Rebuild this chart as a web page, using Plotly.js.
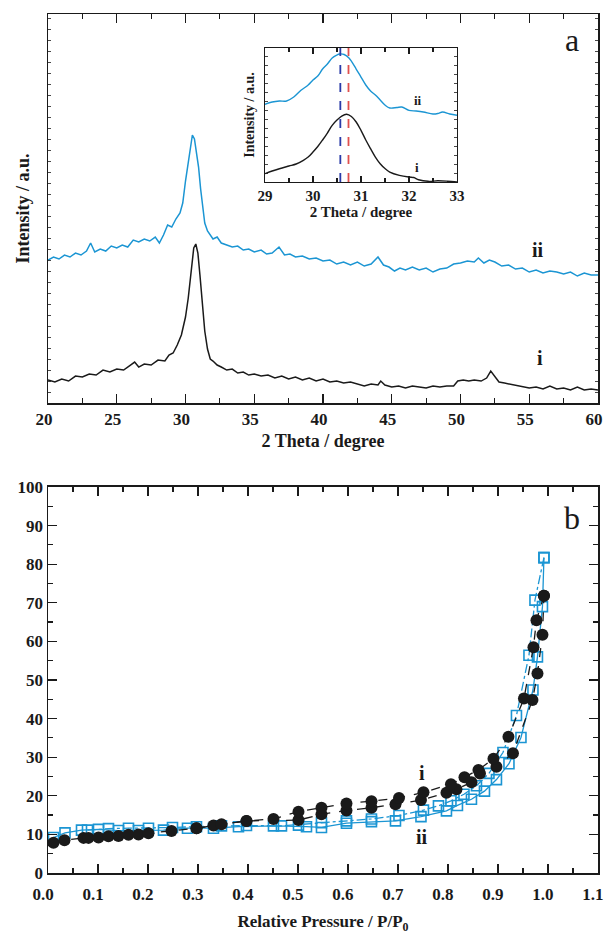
<!DOCTYPE html>
<html>
<head>
<meta charset="utf-8">
<script src="https://cdn.plot.ly/plotly-3.0.1.min.js"></script>
<style>html,body{margin:0;padding:0;background:#fff;}#chart{width:607px;height:936px;}</style>
</head>
<body>
<div id="chart"></div>
<script>
// ---------- Panel a: XRD patterns (intensity in arbitrary units) ----------
const xrdTheta_i = [20.0,20.5,21.0,21.5,22.0,22.5,23.0,23.5,24.0,24.5,25.0,25.5,26.0,26.3,26.6,27.0,27.5,28.0,28.5,28.8,29.1,29.4,29.7,30.0,30.2,30.4,30.6,30.75,30.9,31.05,31.2,31.4,31.6,31.8,32.0,32.3,32.6,33.0,33.4,33.8,34.2,34.6,35.0,35.5,36.0,36.5,37.0,37.5,38.0,38.5,39.0,39.5,40.0,40.5,41.0,41.5,42.0,42.5,43.0,43.5,44.0,44.2,44.5,45.0,45.5,46.0,46.5,47.0,47.5,48.0,48.5,49.0,49.5,49.8,50.2,50.6,51.0,51.5,51.9,52.2,52.5,52.8,53.2,53.6,54.0,54.5,55.0,55.5,56.0,56.5,57.0,57.5,58.0,58.5,59.0,59.5,60.0];
const xrdInt_i = [23,21,24,22,27,26,29,28,33,31,34,33,38,41,36,39,38,43,42,48,50,58,68,86,105,132,155,159,150,128,100,72,54,44,42,38,36,33,34,30,31,28,29,27,28,25,27,24,26,23,25,22,24,21,22,20,21,19,17,19,18,22,18,16,17,15,17,16,15,17,16,17,17,22,23,22,23,22,25,32,27,21,20,19,18,17,15,16,14,17,14,15,13,16,13,14,13];
const xrdTheta_ii = [20.0,20.4,20.8,21.2,21.6,22.0,22.4,22.8,23.1,23.4,23.8,24.2,24.6,25.0,25.4,25.8,26.2,26.6,27.0,27.4,27.8,28.1,28.4,28.7,29.0,29.3,29.6,29.8,30.0,30.2,30.35,30.5,30.65,30.8,30.95,31.1,31.25,31.4,31.6,31.8,32.0,32.3,32.6,33.0,33.4,33.8,34.2,34.6,35.0,35.5,35.9,36.3,36.8,37.2,37.6,38.0,38.5,39.0,39.5,40.0,40.5,41.0,41.5,42.0,42.5,43.0,43.5,44.0,44.4,44.8,45.2,45.6,46.0,46.5,47.0,47.5,48.0,48.5,49.0,49.5,50.0,50.5,51.0,51.3,51.7,52.1,52.5,53.0,53.5,54.0,54.5,55.0,55.5,56.0,56.5,57.0,57.5,58.0,58.5,59.0,59.5,60.0];
const xrdInt_ii = [143,146,144,148,146,150,148,152,160,151,154,152,157,155,158,156,163,161,164,162,166,160,168,178,176,184,190,200,222,240,258,268,264,252,236,214,195,180,172,168,164,166,160,158,156,157,153,154,151,153,149,150,156,148,149,146,147,144,145,142,143,139,141,138,141,137,139,146,138,136,132,135,133,136,133,135,131,134,135,139,140,142,141,145,140,143,141,137,138,134,135,131,133,130,132,131,129,131,127,130,128,128];

// Inset (29–33 degree zoom of the main reflection)
const insetTheta_i = [29.0,29.15,29.3,29.5,29.65,29.8,29.9,30.0,30.1,30.2,30.3,30.4,30.5,30.6,30.7,30.8,30.9,31.0,31.1,31.2,31.3,31.4,31.5,31.6,31.8,32.0,32.1,32.2,32.4,32.6,32.8,33.0];
const insetInt_i = [8.3,11,13.3,16,18,21.7,25,30,35.5,42,49,56.7,62,66,67.7,65.5,60,51.7,42,33.3,25,18.3,13.5,10,6.7,5,4.5,2.3,0.7,1.2,0.8,0];
const insetTheta_ii = [29.0,29.15,29.3,29.45,29.6,29.75,29.9,30.0,30.1,30.2,30.3,30.4,30.5,30.55,30.65,30.75,30.9,31.0,31.1,31.2,31.3,31.4,31.5,31.6,31.75,31.85,32.0,32.15,32.3,32.5,32.6,32.7,32.85,33.0];
const insetInt_ii = [77.7,80,81,81,85,91.7,97,102,106,113,118,124,127,128,127.5,124,113,105,97,91,87,82,77,74,74.5,75,71.7,71,70,68,68.5,70,68,66.7];
const peakPositions = [30.57, 30.74];   // blue (ii) and red (i) dashed markers
const peakColors = ['#2a3aa8', '#e0504e'];

// ---------- Panel b: N2 isotherms ----------
const ads_i_P = [0.011,0.033,0.071,0.081,0.101,0.121,0.141,0.161,0.181,0.201,0.247,0.297,0.331,0.397,0.501,0.547,0.597,0.647,0.695,0.746,0.797,0.817,0.847,0.864,0.897,0.930,0.969,0.979,0.989,0.992];
const ads_i_V = [7.85,8.5,9.1,9.1,9.2,9.5,9.6,9.9,10.0,10.3,10.9,11.6,12.3,13.5,13.7,15.2,16.2,16.9,17.8,18.9,20.8,21.7,23.5,25.8,27.5,31.0,44.8,51.7,61.7,71.8];
const des_i_P = [0.992,0.977,0.971,0.952,0.921,0.891,0.861,0.833,0.806,0.751,0.702,0.647,0.597,0.547,0.501,0.451,0.397,0.347,0.297];
const des_i_V = [71.8,65.5,58.5,45.2,35.3,29.6,26.7,24.8,23.0,20.9,19.4,18.6,18.0,16.9,15.9,14.0,13.5,12.6,11.6];
const ads_ii_P = [0.011,0.034,0.067,0.101,0.141,0.181,0.231,0.279,0.331,0.381,0.451,0.517,0.547,0.597,0.647,0.695,0.746,0.797,0.819,0.847,0.873,0.897,0.922,0.946,0.970,0.979,0.989,0.992];
const ads_ii_V = [9.2,10.4,11.1,11.3,11.0,11.0,11.1,11.6,11.6,12.0,12.2,12.0,11.8,12.9,13.3,13.5,14.6,16.1,17.5,19.1,21.2,24.2,28.3,35.1,47.4,56.0,69.0,81.7];
const des_ii_P = [0.992,0.974,0.962,0.937,0.910,0.882,0.857,0.832,0.806,0.781,0.751,0.702,0.647,0.597,0.547,0.501,0.467,0.397,0.347,0.297,0.249,0.201,0.161,0.121,0.079];
const des_ii_V = [81.7,70.7,56.4,40.8,31.2,25.8,22.6,20.4,18.7,17.4,16.3,14.9,14.0,13.5,13.05,12.4,12.2,12.3,12.2,12.0,11.8,11.6,11.6,11.5,11.1];

const BLACK = '#1a1a1a';
const BLUE = '#1b95d3';
const FONT = 'Liberation Serif, Times New Roman, serif';

const traces = [
  {x: xrdTheta_i, y: xrdInt_i, xaxis: 'x', yaxis: 'y', mode: 'lines', line: {color: BLACK, width: 1.5}},
  {x: xrdTheta_ii, y: xrdInt_ii, xaxis: 'x', yaxis: 'y', mode: 'lines', line: {color: BLUE, width: 1.5}},
  {x: insetTheta_i, y: insetInt_i, xaxis: 'x3', yaxis: 'y3', mode: 'lines', line: {color: BLACK, width: 1.4, shape: 'spline'}},
  {x: insetTheta_ii, y: insetInt_ii, xaxis: 'x3', yaxis: 'y3', mode: 'lines', line: {color: BLUE, width: 1.4, shape: 'spline'}},
  {x: ads_ii_P, y: ads_ii_V, xaxis: 'x2', yaxis: 'y2', mode: 'lines+markers',
   line: {color: BLUE, width: 1.3}, marker: {symbol: 'square-open', size: 10, color: BLUE, line: {width: 1.6, color: BLUE}}},
  {x: des_ii_P, y: des_ii_V, xaxis: 'x2', yaxis: 'y2', mode: 'lines+markers',
   line: {color: BLUE, width: 1.3, dash: 'dashdot'}, marker: {symbol: 'square-open', size: 10, color: BLUE, line: {width: 1.6, color: BLUE}}},
  {x: ads_i_P, y: ads_i_V, xaxis: 'x2', yaxis: 'y2', mode: 'lines+markers',
   line: {color: BLACK, width: 1.3, dash: 'dash'}, marker: {symbol: 'circle', size: 12, color: BLACK}},
  {x: des_i_P, y: des_i_V, xaxis: 'x2', yaxis: 'y2', mode: 'lines+markers',
   line: {color: BLACK, width: 1.3, dash: 'dash'}, marker: {symbol: 'circle', size: 12, color: BLACK}}
];

const axisBase = {
  showline: true, linecolor: BLACK, linewidth: 1.5, mirror: 'allticks',
  ticks: 'inside', tickcolor: BLACK, tickwidth: 1.2, showgrid: false, zeroline: false,
  ticklabeloverflow: 'allow',
  tickfont: {family: FONT, size: 17, color: BLACK, weight: 700}
};

const layout = {
  width: 607, height: 936,
  margin: {l: 48, r: 9, t: 14, b: 63},
  paper_bgcolor: '#fff', plot_bgcolor: '#fff',
  showlegend: false,
  font: {family: FONT, color: BLACK},
  xaxis: Object.assign({}, axisBase, {
    domain: [0, 1], anchor: 'y', range: [20, 60], dtick: 5, ticklen: 9, ticklabelshift: -4,
    minor: {dtick: 2.5, ticklen: 5, ticks: 'inside', tickcolor: BLACK},
    title: {text: '2 Theta / degree', standoff: 6, font: {family: FONT, size: 18, weight: 700}}
  }),
  yaxis: Object.assign({}, axisBase, {
    domain: [0.5471, 1], anchor: 'x', range: [0, 389], dtick: 11, ticklen: 3, tickwidth: 0.8,
    showticklabels: false,
    title: {text: 'Intensity / a.u.', standoff: 12, font: {family: FONT, size: 18, weight: 700}}
  }),
  xaxis2: Object.assign({}, axisBase, {
    domain: [0, 1], anchor: 'y2', range: [0, 1.1001], tick0: 0, dtick: 0.1, tickformat: '.1f', ticklen: 9,
    ticklabelstandoff: 5, ticklabelshift: -5,
    minor: {dtick: 0.05, ticklen: 5, ticks: 'inside', tickcolor: BLACK},
    title: {text: 'Relative Pressure / P/P<sub>0</sub>', standoff: 12, font: {family: FONT, size: 17, weight: 700}}
  }),
  yaxis2: Object.assign({}, axisBase, {
    domain: [0, 0.4494], anchor: 'x2', range: [0, 100], dtick: 10, ticklen: 9,
    minor: {dtick: 5, ticklen: 5, ticks: 'inside', tickcolor: BLACK}
  }),
  xaxis3: Object.assign({}, axisBase, {
    domain: [0.3945, 0.7436], anchor: 'y3', range: [29, 33], dtick: 1, ticklen: 6, linewidth: 1.2,
    minor: {dtick: 0.5, ticklen: 4, ticks: 'inside', tickcolor: BLACK},
    tickfont: {family: FONT, size: 15, color: BLACK, weight: 700},
    title: {text: '2 Theta / degree', standoff: 2, font: {family: FONT, size: 15, weight: 700}}
  }),
  yaxis3: Object.assign({}, axisBase, {
    domain: [0.8044, 0.9604], anchor: 'x3', range: [0, 134], dtick: 9, ticklen: 3, tickwidth: 0.8, linewidth: 1.2,
    showticklabels: false,
    title: {text: 'Intensity / a.u.', standoff: 5, font: {family: FONT, size: 14, weight: 700}}
  }),
  shapes: peakPositions.map((p, k) => ({
    type: 'line', xref: 'x3', yref: 'y3 domain', x0: p, x1: p, y0: 0, y1: 1,
    line: {color: peakColors[k], width: 1.8, dash: 'dash'}
  })),
  annotations: [
    {text: 'a', xref: 'x', yref: 'y', x: 58.1, y: 363, showarrow: false, font: {family: FONT, size: 32, color: BLACK}},
    {text: 'ii', xref: 'x', yref: 'y', x: 55.6, y: 153, showarrow: false, font: {family: FONT, size: 20, weight: 700, color: BLACK}},
    {text: 'i', xref: 'x', yref: 'y', x: 55.8, y: 45, showarrow: false, font: {family: FONT, size: 20, weight: 700, color: BLACK}},
    {text: 'ii', xref: 'x3', yref: 'y3', x: 32.19, y: 82, showarrow: false, font: {family: FONT, size: 13, weight: 700, color: BLACK}},
    {text: 'i', xref: 'x3', yref: 'y3', x: 32.17, y: 15, showarrow: false, font: {family: FONT, size: 13, weight: 700, color: BLACK}},
    {text: 'b', xref: 'x2', yref: 'y2', x: 1.048, y: 92, showarrow: false, font: {family: FONT, size: 32, color: BLACK}},
    {text: 'i', xref: 'x2', yref: 'y2', x: 0.748, y: 26, showarrow: false, font: {family: FONT, size: 20, weight: 700, color: BLACK}},
    {text: 'ii', xref: 'x2', yref: 'y2', x: 0.748, y: 9.3, showarrow: false, font: {family: FONT, size: 20, weight: 700, color: BLACK}}
  ]
};

Plotly.newPlot('chart', traces, layout, {displayModeBar: false, staticPlot: true});
</script>
</body>
</html>
